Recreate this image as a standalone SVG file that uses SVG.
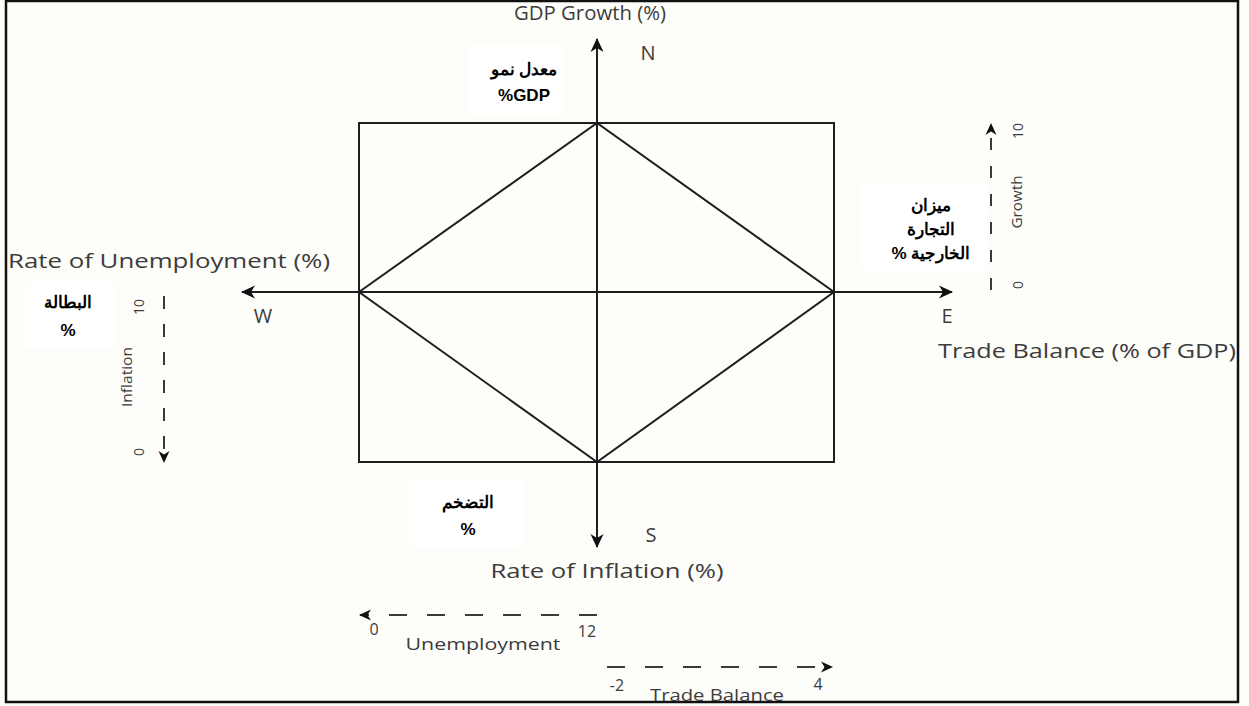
<svg xmlns="http://www.w3.org/2000/svg" width="1249" height="706" viewBox="0 0 1249 706">
<style>
.en{font-family:"Open Sans","Liberation Sans",sans-serif;fill:#3c3c3c}
.ax{font-size:20px}
.sm{font-size:16px}
.rt{font-size:14px}
.ar{font-family:"Liberation Sans","Noto Sans",sans-serif;font-weight:bold;font-size:17px;fill:#000;text-anchor:middle}
.ln{stroke:#1e1e1e;stroke-width:2;fill:none}
.dash{stroke:#3a3a3a;stroke-width:2;fill:none}
.box{fill:#ffffff}
</style>
<defs>
<marker id="ah" markerWidth="14" markerHeight="14" refX="13" refY="7" orient="auto" markerUnits="userSpaceOnUse">
<path d="M0,0.5 L14,7 L0,13.5 L4,7 z" fill="#111"/>
</marker>
<marker id="ahs" markerWidth="12" markerHeight="12" refX="11" refY="6" orient="auto" markerUnits="userSpaceOnUse">
<path d="M0,0.5 L12,6 L0,11.5 L3.5,6 z" fill="#111"/>
</marker>
</defs>
<rect x="0" y="0" width="1249" height="706" fill="#fdfdfa"/>
<rect x="6" y="1" width="1232" height="701" fill="none" stroke="#111" stroke-width="2.5"/>

<g id="frame-diagram">
<rect x="359" y="123" width="475" height="339" class="ln"/>
<path d="M359,292 L597,123 L834,292 L597,462 Z" class="ln"/>
</g>

<g id="connectors">
<line x1="597" y1="520" x2="597" y2="39" class="ln" marker-end="url(#ah)"/>
<line x1="597" y1="440" x2="597" y2="547" class="ln" marker-end="url(#ah)"/>
<line x1="597" y1="292" x2="242" y2="292" class="ln" marker-end="url(#ah)"/>
<line x1="597" y1="292" x2="952" y2="292" class="ln" marker-end="url(#ah)"/>
<line x1="991" y1="290" x2="991" y2="124" class="dash" stroke-dasharray="12 16" marker-end="url(#ahs)"/>
<line x1="164" y1="296" x2="164" y2="462" class="dash" stroke-dasharray="13 15" marker-end="url(#ahs)"/>
<line x1="597" y1="615" x2="360" y2="615" class="dash" stroke-dasharray="18 20" marker-end="url(#ahs)"/>
<line x1="607" y1="667" x2="832" y2="667" class="dash" stroke-dasharray="18 20" marker-end="url(#ahs)"/>
</g>

<g id="axis-labels">
<text class="en ax" x="590" y="20" text-anchor="middle" textLength="152" lengthAdjust="spacingAndGlyphs">GDP Growth (%)</text>
<text class="en ax" x="8" y="268" textLength="322" lengthAdjust="spacingAndGlyphs">Rate of Unemployment (%)</text>
<text class="en ax" x="938" y="358" textLength="298" lengthAdjust="spacingAndGlyphs">Trade Balance (% of GDP)</text>
<text class="en ax" x="607" y="578" text-anchor="middle" textLength="233" lengthAdjust="spacingAndGlyphs">Rate of Inflation (%)</text>
<text class="en ax" x="648" y="60" text-anchor="middle">N</text>
<text class="en ax" x="263" y="323" text-anchor="middle">W</text>
<text class="en ax" x="947" y="323" text-anchor="middle">E</text>
<text class="en ax" x="651" y="542" text-anchor="middle">S</text>
</g>

<g id="scale-growth">
<text class="en rt" transform="translate(1023,131) rotate(-90)" text-anchor="middle">10</text>
<text class="en rt" transform="translate(1022,202) rotate(-90)" text-anchor="middle" textLength="53" lengthAdjust="spacingAndGlyphs">Growth</text>
<text class="en rt" transform="translate(1023,285) rotate(-90)" text-anchor="middle">0</text>
</g>
<g id="scale-inflation">
<text class="en rt" transform="translate(144,307) rotate(-90)" text-anchor="middle">10</text>
<text class="en rt" transform="translate(132,377) rotate(-90)" text-anchor="middle" textLength="60" lengthAdjust="spacingAndGlyphs">Inflation</text>
<text class="en rt" transform="translate(144,452) rotate(-90)" text-anchor="middle">0</text>
</g>
<g id="scale-unemployment">
<text class="en sm" x="374" y="635" text-anchor="middle">0</text>
<text class="en sm" x="587" y="637" text-anchor="middle">12</text>
<text class="en sm" x="483" y="650" text-anchor="middle" textLength="155" lengthAdjust="spacingAndGlyphs">Unemployment</text>
</g>
<g id="scale-trade">
<text class="en sm" x="617" y="691" text-anchor="middle">-2</text>
<text class="en sm" x="818" y="690" text-anchor="middle">4</text>
<text class="en sm" x="717" y="701" text-anchor="middle" textLength="134" lengthAdjust="spacingAndGlyphs">Trade Balance</text>
</g>

<g id="ar-gdp">
<rect class="box" x="467" y="45" width="98" height="70"/>
<text class="ar" x="524" y="75">معدل نمو</text>
<text class="ar" x="524" y="101">%GDP</text>
</g>
<g id="ar-trade">
<rect class="box" x="860" y="183" width="127" height="87"/>
<text class="ar" x="931" y="211">ميزان</text>
<text class="ar" x="931" y="235">التجارة</text>
<text class="ar" x="931" y="259">% الخارجية</text>
</g>
<g id="ar-unemp">
<rect class="box" x="25" y="282" width="90" height="66"/>
<text class="ar" x="68" y="308">البطالة</text>
<text class="ar" x="68" y="336">%</text>
</g>
<g id="ar-infl">
<rect class="box" x="410" y="478" width="113" height="70"/>
<text class="ar" x="468" y="508">التضخم</text>
<text class="ar" x="468" y="535">%</text>
</g>
</svg>
